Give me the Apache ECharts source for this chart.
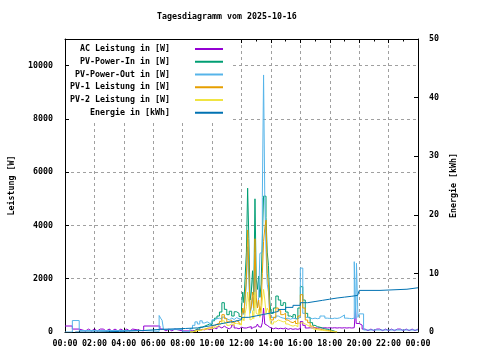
<!DOCTYPE html>
<html><head><meta charset="utf-8">
<script src="https://cdn.jsdelivr.net/npm/echarts@6/dist/echarts.min.js"></script>
<style>html,body{margin:0;padding:0;background:#fff}#c{width:480px;height:360px}</style>
</head><body><div id="c"></div>
<script>
// ---- data ----
const titleText = 'Tagesdiagramm vom 2025-10-16';
const seriesNames = ['AC Leistung in [W]','PV-Power-In in [W]','PV-Power-Out in [W]','PV-1 Leistung in [W]','PV-2 Leistung in [W]','Energie in [kWh]'];

const dayT = ["08:30","08:40","08:50","09:00","09:10","09:20","09:30","09:40","09:50","10:00","10:10","10:20","10:30","10:40","10:50","11:00","11:10","11:20","11:30","11:40","11:50",
 "12:00","12:05","12:10","12:15","12:20","12:25","12:30","12:35","12:40","12:45","12:50","12:55","13:00","13:05","13:10","13:15","13:20","13:25","13:30","13:35","13:40","13:45","13:50","13:55",
 "14:00","14:10","14:20","14:30","14:40","14:50","15:00","15:10","15:20","15:30","15:40","15:50","16:00","16:10","16:20","16:30","16:40","16:50","17:00","17:10","17:20","17:30","17:40","17:50","18:00","18:10","18:20","18:30"];
const pvInDay = [0,60,120,100,180,220,260,300,280,420,520,600,750,1100,850,650,780,600,760,700,580,
 900,1500,1100,2100,3000,5400,3500,1200,1500,2300,1400,5000,2000,1600,2100,1300,1800,3500,5100,5100,4300,3000,2500,1200,
 700,900,1350,1200,1000,1100,750,600,550,650,500,900,1700,1200,700,550,350,250,200,180,150,120,100,80,60,30,0,0];
const pv1Day = [0,20,50,60,90,110,140,160,150,230,300,320,400,650,500,380,450,350,420,380,300,
 550,900,700,1400,2000,3830,2400,800,950,1500,900,3500,1300,900,1200,700,1000,2200,3400,3900,4200,2200,1800,700,
 450,550,900,800,650,700,450,380,350,420,320,600,1400,900,450,350,220,150,120,110,90,70,60,50,30,10,0,0];
const pv2Day = [0,40,60,50,80,100,110,130,120,170,200,260,330,420,330,250,300,230,320,300,260,
 380,550,420,700,950,1500,1100,450,500,800,500,1500,700,650,850,550,700,1200,1600,1200,700,900,800,500,
 300,380,450,420,380,400,300,250,220,250,200,330,350,300,250,200,130,100,80,70,60,50,40,30,20,10,0,0];
const outDay = [120,250,380,300,420,340,380,330,320,460,500,520,480,560,500,450,520,470,540,500,480,
 600,800,650,1200,1800,3200,2000,700,900,1300,800,3000,1200,900,1300,2950,3000,5050,9650,5000,3100,1800,1500,700,
 550,520,600,550,520,500,520,480,520,500,490,560,2400,700,550,520,500,520,500,520,600,600,520,510,500,520,510,530];
const acDay = [50,50,80,60,100,80,120,90,110,150,120,200,150,220,160,120,180,260,150,120,180,
 200,150,220,150,200,180,150,200,120,180,150,200,150,300,200,180,220,350,900,300,250,200,180,150,
 120,150,120,140,120,150,100,130,100,120,100,130,390,250,150,160,150,160,150,160,150,160,150,160,150,160,150,160];

const acAmT = ["00:00","00:30","00:58","01:24","01:36","01:48","02:00","02:12","02:24","02:36","02:48","03:00","03:12","03:24","03:36","03:48","04:00","04:12","04:24","04:36","05:21","06:27","06:40","06:52","07:04","07:16","07:28","08:00"];
const acAm = [225,110,40,110,40,110,40,110,110,40,110,40,110,40,110,40,110,40,110,40,225,110,40,110,40,110,40,40];
const acPmT = ["18:40","18:50","19:00","19:10","19:20","19:30","19:40","19:45","19:48","20:00","20:12","20:24","20:36","20:48","21:00","21:12","21:24","21:36","21:48","22:00","22:12","22:24","22:36","22:48","23:00","23:12","23:24","23:36","23:48","24:00"];
const acPm = [150,160,150,160,150,160,150,890,320,260,110,50,110,50,110,110,50,110,50,110,50,110,110,50,110,50,110,50,110,110];

const outAmT = ["00:00","00:30","00:58","05:21","06:24","06:30","06:36","06:42","08:00"];
const outAm = [0,430,55,25,620,520,440,90,10];
const outPmT = ["18:40","18:50","19:00","19:10","19:20","19:30","19:40","19:46","19:49","19:55","20:00","20:18","24:00"];
const outPm = [580,640,520,510,500,520,2640,500,2580,550,680,75,75];

const enT = ["00:42","02:06","03:42","05:18","06:30","08:12","09:00","09:30","10:00","10:30","11:00","11:30","12:00","12:30","13:00","13:30","14:00","14:30","15:00","15:30","16:00","16:30","17:00","17:30","18:00","18:30","19:00","19:30","19:54","20:00","21:25","23:15","24:00"];
const enKWh = [0,0.1,0.25,0.45,0.6,0.7,0.9,1.1,1.35,1.6,1.8,2.1,2.5,2.75,3.0,3.25,3.5,3.85,4.2,4.55,5.0,5.2,5.4,5.6,5.8,5.95,6.1,6.25,6.35,7.1,7.3,7.55,7.6];

// ---- build ----
const hm = s => { const p = s.split(':'); return +p[0] + (+p[1]) / 60; };
const zip = (ts, vs) => ts.map((t, i) => [hm(t), vs[i]]);
const colors = ['#9400d3','#009e73','#56b4e9','#e69f00','#f0e442','#0072b2'];
const FONT = 'DejaVu Sans Mono';
const FS = 8.3;

const dataSets = [
  zip(acAmT.concat(dayT, acPmT), acAm.concat(acDay, acPm)),
  zip(dayT, pvInDay),
  zip(outAmT.concat(dayT, outPmT), outAm.concat(outDay, outPm)),
  zip(dayT, pv1Day),
  zip(dayT, pv2Day),
  zip(enT, enKWh)
];

const chart = echarts.init(document.getElementById('c'), null, {renderer: 'canvas'});
const txt = {fontFamily: FONT, fontSize: FS, color: '#000', fontWeight: 'bold'};
const fmtHour = v => { const h = v % 24; return (h < 10 ? '0' : '') + h + ':00'; };

chart.setOption({
  animation: false,
  backgroundColor: '#fff',
  title: {text: titleText, left: 157, top: 13, padding: 0, textStyle: txt},
  grid: {left: 64, right: 62, top: 39, bottom: 28, containLabel: false},
  legend: {
    data: seriesNames, orient: 'vertical', align: 'right', right: 250, top: 40,
    padding: [5, 6, 5, 1], itemWidth: 28, itemHeight: 8, itemGap: 4.75,
    backgroundColor: '#fff', selectedMode: false,
    itemStyle: {opacity: 0},
    textStyle: txt,
    formatter: n => n + '    '
  },
  xAxis: [{
    type: 'value', min: 0, max: 24, interval: 2,
    axisLine: {onZero: false, lineStyle: {color: '#000', width: 1}},
    axisTick: {inside: true, length: 4, lineStyle: {color: '#000'}},
    minorTick: {show: true, splitNumber: 2, length: 2.5, lineStyle: {color: '#000'}},
    axisLabel: Object.assign({formatter: fmtHour, margin: 8}, txt),
    splitLine: {show: true, lineStyle: {color: '#a0a0a0', type: [3, 3], width: 1}}
  }, {
    type: 'value', min: 0, max: 24, interval: 2, position: 'top',
    axisLine: {onZero: false, lineStyle: {color: '#000', width: 1}},
    axisTick: {inside: true, length: 4, lineStyle: {color: '#000'}},
    minorTick: {show: true, splitNumber: 2, length: 2.5, lineStyle: {color: '#000'}},
    axisLabel: {show: false}, splitLine: {show: false}
  }],
  yAxis: [{
    type: 'value', min: 0, max: 11000, interval: 2000, position: 'left',
    name: 'Leistung [W]', nameLocation: 'middle', nameGap: 49, nameRotate: 90, nameTextStyle: txt,
    axisLine: {show: true, onZero: false, lineStyle: {color: '#000', width: 1}},
    axisTick: {show: true, inside: true, length: 4, lineStyle: {color: '#000'}},
    axisLabel: Object.assign({margin: 12, showMaxLabel: false, formatter: v => String(v)}, txt),
    splitLine: {show: true, lineStyle: {color: '#a0a0a0', type: [3, 3], width: 1}}
  }, {
    type: 'value', min: 0, max: 50, interval: 10, position: 'right',
    name: 'Energie [kWh]', nameLocation: 'middle', nameGap: 30, nameRotate: 90, nameTextStyle: txt,
    axisLine: {show: true, onZero: false, lineStyle: {color: '#000', width: 1}},
    axisTick: {show: true, inside: true, length: 4, lineStyle: {color: '#000'}},
    axisLabel: Object.assign({margin: 11, formatter: v => String(v)}, txt),
    splitLine: {show: false}
  }],
  series: seriesNames.map((n, i) => ({
    name: n, type: 'line', step: 'end', symbol: 'none', showSymbol: false,
    yAxisIndex: i === 5 ? 1 : 0,
    color: colors[i],
    lineStyle: {color: colors[i], width: 1},
    data: dataSets[i]
  }))
});
</script></body></html>
